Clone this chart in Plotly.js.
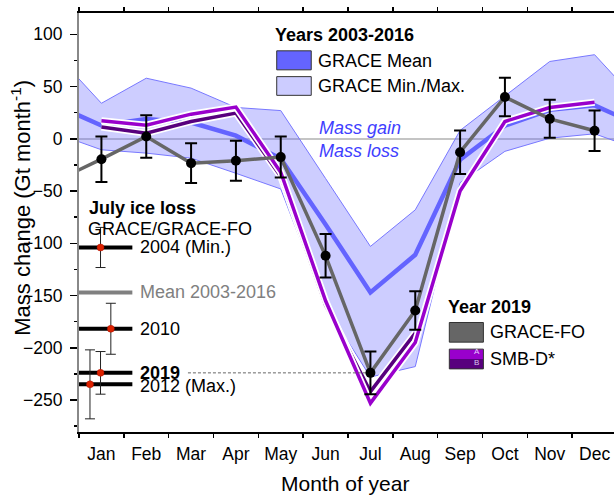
<!DOCTYPE html>
<html>
<head>
<meta charset="utf-8">
<script src="https://cdn.plot.ly/plotly-3.0.1.min.js"></script>
<style>
html,body{margin:0;padding:0;overflow:hidden;background:#fff;}
#chart{width:620px;height:495px;}
</style>
</head>
<body>
<div id="chart"></div>
<script>
// ---- data ----
var months = ['Jan','Feb','Mar','Apr','May','Jun','Jul','Aug','Sep','Oct','Nov','Dec'];
var monthNum = [1,2,3,4,5,6,7,8,9,10,11,12];
var monthEdges = [0.5,1.5,2.5,3.5,4.5,5.5,6.5,7.5,8.5,9.5,10.5,11.5,12.5];

// GRACE 2003-2016 monthly statistics (Gt/month)
var graceMean = [12.7, 19, 15.6, 3, -19, -82, -147, -111, -20, 12.5, 27.8, 32];
var graceMin  = [-10.5, -13.7, -18.5, -33, -48, -160, -228, -218, -42, -12, 0.6, 4.8];
var graceMax  = [34, 58, 48.5, 30, 27, -38, -103, -68, 8, 41, 74, 80.5];

// 2019 GRACE-FO
var graceFO    = [-19.5, 2.2, -23.3, -21, -17.5, -112, -224, -164.3, -12.8, 40, 19.1, 7.7];
var graceFOerr = [21.8, 20.4, 19, 19.2, 19.6, 20.8, 20.4, 18.4, 20.8, 18.4, 18.2, 19.4];
var graceFOdec2018 = -40;

// 2019 SMB-D* (A and B)
var smbA = [17.2, 13, 23.6, 30.4, -32, -155, -253, -195, -50, 16.6, 30, 35];
var smbB = [11.2, 5.4, 16.6, 24.6, -36, -159, -242, -186];

// July ice loss inset
var julyLabels = ['2004 (Min.)', 'Mean 2003-2016', '2010', '2019', '2012 (Max.)'];
var julyLoss   = [-104, -147, -181.8, -224, -235];
var julyErr    = [19.2, null, 24.4, 20.4, 33];
var julyDotX   = [0.98, null, 1.21, 0.98, 0.745];

// ---- helpers (wrap-around Dec / Jan so lines reach the frame edges) ----
function wrap(arr){ return [arr[11]].concat(arr, [arr[0]]); }
var xWrap = [0].concat(monthNum, [13]);

var FONT = 'Liberation Sans, Arial, Helvetica, sans-serif';
var traces = [];

// band
traces.push({x:xWrap, y:wrap(graceMax), mode:'lines', line:{color:'#7878ff', width:1}, hoverinfo:'skip', showlegend:false});
traces.push({x:xWrap, y:wrap(graceMin), mode:'lines', fill:'tonexty', fillcolor:'rgba(102,102,255,0.33)', line:{color:'#7878ff', width:1}, hoverinfo:'skip', showlegend:false});
// mean
traces.push({x:xWrap, y:wrap(graceMean), mode:'lines', line:{color:'#6464ff', width:4.5}, showlegend:false});
// SMB-D B
var xB = monthNum.slice(0, smbB.length);
traces.push({x:xB, y:smbB, mode:'lines', line:{color:'#ffffff', width:7}, showlegend:false, hoverinfo:'skip'});
traces.push({x:xB, y:smbB, mode:'lines', line:{color:'#58007e', width:3.5}, showlegend:false});
// SMB-D A
traces.push({x:monthNum, y:smbA, mode:'lines', line:{color:'#ffffff', width:7}, showlegend:false, hoverinfo:'skip'});
traces.push({x:monthNum, y:smbA, mode:'lines', line:{color:'#9900cc', width:3.5}, showlegend:false});
// GRACE-FO line
traces.push({x:[0].concat(monthNum), y:[graceFOdec2018].concat(graceFO), mode:'lines', line:{color:'#666666', width:3.5}, showlegend:false});
// dashed link 2019 label -> Jul
traces.push({x:[2.93, 7], y:[graceFO[6], graceFO[6]], mode:'lines', line:{color:'#666666', width:1, dash:'3px,2px'}, showlegend:false, hoverinfo:'skip'});
// GRACE-FO markers + error bars
traces.push({x:monthNum, y:graceFO, mode:'markers', marker:{color:'#000', size:10},
  error_y:{type:'data', array:graceFOerr, visible:true, color:'#000', thickness:2, width:6}, showlegend:false});

// inset horizontal bars
julyLoss.forEach(function(v,i){
  traces.push({x:[0.5,1.69], y:[v,v], mode:'lines',
    line:{color: julyDotX[i]===null ? '#808080' : '#000', width:4}, showlegend:false, hoverinfo:'skip'});
});
// inset dots
var dx=[], dy=[], de=[];
julyLoss.forEach(function(v,i){ if(julyDotX[i]!==null){dx.push(julyDotX[i]); dy.push(v); de.push(julyErr[i]);} });
traces.push({x:dx, y:dy, mode:'markers', marker:{color:'#dd2200', size:7, line:{color:'#aa1100', width:0.5}},
  error_y:{type:'data', array:de, visible:true, color:'#222', thickness:1, width:5}, showlegend:false});

// ---- annotations ----
function txt(x,y,t,opt){
  opt = opt||{};
  return {x:x, y:y, xref:opt.xref||'x', yref:opt.yref||'y', text:t, showarrow:false,
    xanchor:opt.xanchor||'left', yanchor:'middle', textangle:opt.angle||0,
    font:{family:FONT, size:opt.size||18, color:opt.color||'#000'}};
}
var ann = [
  txt(4.82, 99.6, '<b>Years 2003-2016</b>'),
  txt(5.79, 74.6, 'GRACE Mean'),
  txt(5.79, 50.7, 'GRACE Min./Max.'),
  txt(5.80, 10.5, '<i>Mass gain</i>', {color:'#4040ff'}),
  txt(5.80, -11.2, '<i>Mass loss</i>', {color:'#4040ff'}),
  txt(0.68, -66, '<b>July ice loss</b>'),
  txt(0.66, -86.1, 'GRACE/GRACE-FO'),
  txt(8.69, -160.8, '<b>Year 2019</b>'),
  txt(9.62, -185, 'GRACE-FO'),
  txt(9.62, -210.5, 'SMB-D*'),
  txt(9.37, -203.9, 'A', {size:8, color:'#e6ccff', xanchor:'center'}),
  txt(9.37, -214.4, 'B', {size:8, color:'#d9c8ee', xanchor:'center'}),
  txt(0.494, -0.122, 'Month of year', {xref:'paper', yref:'paper', xanchor:'center', size:21}),
  txt(-0.108, 0.535, 'Mass change (Gt month<sup>-1</sup>)', {xref:'paper', yref:'paper', xanchor:'center', size:22, angle:-90})
];
julyLabels.forEach(function(l,i){
  var isMean = julyDotX[i]===null;
  var t = (l==='2019') ? '<b>'+l+'</b>' : l;
  ann.push(txt(1.81, julyLoss[i] + (l==='2012 (Max.)' ? -1.4 : 0), t, {color: isMean ? '#808080' : '#000'}));
});

// ---- legend boxes ----
function box(x0,x1,y0,y1,fill){
  return {type:'rect', xref:'x', yref:'y', x0:x0, x1:x1, y0:y0, y1:y1, fillcolor:fill, line:{color:'#333', width:1}, layer:'above'};
}
var shapes = [
  box(4.91, 5.68, 66, 84.2, '#6464ff'),
  box(4.91, 5.68, 41.6, 59.5, '#ccccff'),
  box(8.76, 9.52, -194.6, -175.8, '#666666'),
  {type:'rect', xref:'x', yref:'y', x0:8.76, x1:9.52, y0:-210.7, y1:-201.3, fillcolor:'#9900cc', line:{width:0}, layer:'above'},
  {type:'rect', xref:'x', yref:'y', x0:8.76, x1:9.52, y0:-220.2, y1:-210.7, fillcolor:'#58007e', line:{width:0}, layer:'above'},
  {type:'rect', xref:'x', yref:'y', x0:8.76, x1:9.52, y0:-220.2, y1:-201.3, fillcolor:'rgba(0,0,0,0)', line:{color:'#333', width:1}, layer:'above'}
];

var layout = {
  width:620, height:495,
  margin:{l:79, r:3, t:13, b:63},
  paper_bgcolor:'#fff', plot_bgcolor:'#fff',
  font:{family:FONT, size:17.5, color:'#000'},
  showlegend:false,
  xaxis:{range:[0.5,12.5], tickmode:'array', tickvals:monthNum, ticktext:months, ticks:'', ticklen:0,
    showline:true, linecolor:'#000', linewidth:2, mirror:'allticks', showgrid:false, zeroline:false,
    ticklabelstandoff:5,
    minor:{tickmode:'array', tickvals:monthEdges, ticks:'outside', ticklen:4, tickwidth:1.5, tickcolor:'#000', showgrid:false},
    tickfont:{family:FONT, size:17.5}},
  yaxis:{range:[-280.6,120.4], tickmode:'array', tickvals:[-250,-200,-150,-100,-50,0,50,100],
    ticks:'outside', ticklen:7, tickwidth:1.5, tickcolor:'#000',
    minor:{dtick:25, tick0:0, ticks:'outside', ticklen:3, tickwidth:1.5, tickcolor:'#000'},
    showline:true, linecolor:'#888', linewidth:2, showgrid:false,
    zeroline:true, zerolinecolor:'#c4c4c4', zerolinewidth:1.5, ticklabelstandoff:4,
    tickfont:{family:FONT, size:17.5}},
  annotations:ann,
  shapes:shapes
};

Plotly.newPlot('chart', traces, layout, {displayModeBar:false, staticPlot:true});
</script>
</body>
</html>
